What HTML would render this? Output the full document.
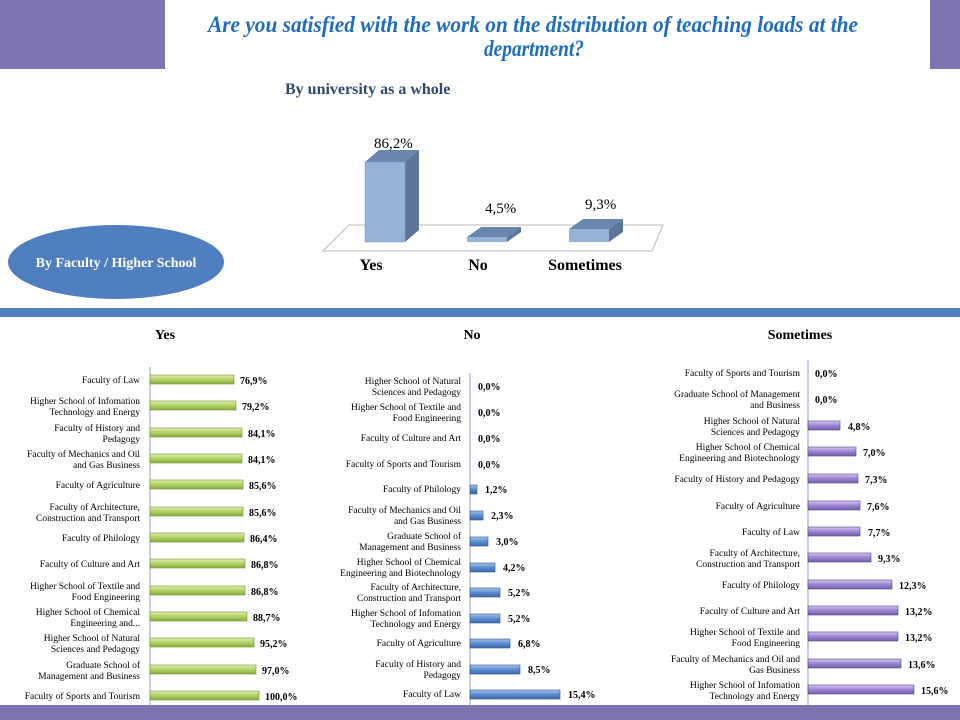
<!DOCTYPE html>
<html><head><meta charset="utf-8"><style>
body{margin:0;background:#fff;width:960px;height:720px;overflow:hidden}
svg{display:block;font-family:"Liberation Serif",serif}
.l{font-size:9.5px;text-anchor:end;fill:#000}
.v{font-size:10px;font-weight:bold;fill:#000}
</style></head><body>
<svg width="960" height="720" viewBox="0 0 960 720">
<defs>
<linearGradient id="g" x1="0" y1="0" x2="0" y2="1"><stop offset="0" stop-color="#e0f0b0"/><stop offset="0.5" stop-color="#b2d166"/><stop offset="1" stop-color="#86ad3e"/></linearGradient>
<linearGradient id="b" x1="0" y1="0" x2="0" y2="1"><stop offset="0" stop-color="#a9c4ea"/><stop offset="0.5" stop-color="#5b8bd0"/><stop offset="1" stop-color="#3c6aad"/></linearGradient>
<linearGradient id="p" x1="0" y1="0" x2="0" y2="1"><stop offset="0" stop-color="#d6c8f0"/><stop offset="0.5" stop-color="#9a84cf"/><stop offset="1" stop-color="#7660ad"/></linearGradient>
</defs>
<rect x="0" y="0" width="165" height="69" fill="#7e72b0"/>
<rect x="930" y="0" width="30" height="69" fill="#7e72b0"/>
<text x="208" y="32" font-size="23" font-style="italic" font-weight="bold" fill="#1f6cc0" textLength="650" lengthAdjust="spacingAndGlyphs">Are you satisfied with the work on the distribution of teaching loads at the</text>
<text x="484" y="56" font-size="23" font-style="italic" font-weight="bold" fill="#1f6cc0" textLength="100" lengthAdjust="spacingAndGlyphs">department?</text>
<text x="285" y="94" font-size="16" font-weight="bold" fill="#2c4a72">By university as a whole</text>
<polygon points="323,251 349,225 663,225 652,251" fill="#fff" stroke="#bbb"/>
<polygon points="365,162 379,150 419,150 405,162" fill="#6a86ad"/>
<polygon points="405,162 419,150 419,230 405,242" fill="#5d7597"/>
<rect x="365" y="162" width="40" height="80" fill="#95b3d7" stroke="#7f9ccb" stroke-width="0.5"/>
<polygon points="467,237 481,227 521,227 507,237" fill="#6a86ad"/>
<polygon points="507,237 521,227 521,232 507,242" fill="#5d7597"/>
<rect x="467" y="237" width="40" height="5" fill="#95b3d7"/>
<polygon points="569,229 583,219 623,219 609,229" fill="#6a86ad"/>
<polygon points="609,229 623,219 623,232 609,242" fill="#5d7597"/>
<rect x="569" y="229" width="40" height="13" fill="#95b3d7"/>
<g font-size="15" fill="#000"><text x="374" y="148">86,2%</text><text x="485" y="213">4,5%</text><text x="585" y="209">9,3%</text></g>
<g font-size="16" font-weight="bold" fill="#000" text-anchor="middle"><text x="371" y="270">Yes</text><text x="478" y="270">No</text><text x="585" y="270">Sometimes</text></g>
<ellipse cx="116" cy="262" rx="108" ry="37" fill="#4f7fbf"/>
<text x="116" y="267" font-size="14" font-weight="bold" fill="#fff" text-anchor="middle">By Faculty / Higher School</text>
<rect x="0" y="308" width="960" height="9" fill="#4f81bd"/>
<rect x="0" y="705" width="960" height="15" fill="#7e72b0"/>
<g font-size="14" font-weight="bold" text-anchor="middle"><text x="165" y="339">Yes</text><text x="472" y="339">No</text><text x="800" y="339">Sometimes</text></g>
<line x1="150" y1="367" x2="150" y2="705" stroke="#8ea6c8"/>
<line x1="470" y1="373" x2="470" y2="705" stroke="#8ea6c8"/>
<line x1="808" y1="360" x2="808" y2="705" stroke="#8ea6c8"/>
<g class="l">
<text x="140" y="383">Faculty of Law</text>
<text x="140" y="404">Higher School of Infomation</text><text x="140" y="415">Technology and Energy</text>
<text x="140" y="431">Faculty of History and</text><text x="140" y="442">Pedagogy</text>
<text x="140" y="457">Faculty of Mechanics and Oil</text><text x="140" y="468">and Gas Business</text>
<text x="140" y="488">Faculty of Agriculture</text>
<text x="140" y="510">Faculty of Architecture,</text><text x="140" y="521">Construction and Transport</text>
<text x="140" y="541">Faculty of Philology</text>
<text x="140" y="567">Faculty of Culture and Art</text>
<text x="140" y="589">Higher School of Textile and</text><text x="140" y="600">Food Engineering</text>
<text x="140" y="615">Higher School of Chemical</text><text x="140" y="626">Engineering and...</text>
<text x="140" y="641">Higher School of Natural</text><text x="140" y="652">Sciences and Pedagogy</text>
<text x="140" y="668">Graduate School of</text><text x="140" y="679">Management and Business</text>
<text x="140" y="699">Faculty of Sports and Tourism</text>
</g>
<g fill="url(#g)" stroke="#6f8f35" stroke-width="0.6">
<rect x="150" y="375" width="84" height="9"/><rect x="150" y="401" width="86" height="9"/><rect x="150" y="428" width="92" height="9"/><rect x="150" y="454" width="92" height="9"/><rect x="150" y="480" width="93" height="9"/><rect x="150" y="507" width="93" height="9"/><rect x="150" y="533" width="94" height="9"/><rect x="150" y="559" width="95" height="9"/><rect x="150" y="586" width="95" height="9"/><rect x="150" y="612" width="97" height="9"/><rect x="150" y="638" width="104" height="9"/><rect x="150" y="665" width="106" height="9"/><rect x="150" y="691" width="109" height="9"/>
</g>
<g class="v">
<text x="240" y="384">76,9%</text><text x="242" y="410">79,2%</text><text x="248" y="437">84,1%</text><text x="248" y="463">84,1%</text><text x="249" y="489">85,6%</text><text x="249" y="516">85,6%</text><text x="250" y="542">86,4%</text><text x="251" y="568">86,8%</text><text x="251" y="595">86,8%</text><text x="253" y="621">88,7%</text><text x="260" y="647">95,2%</text><text x="262" y="674">97,0%</text><text x="265" y="700">100,0%</text>
</g>
<g class="l">
<text x="461" y="384">Higher School of Natural</text><text x="461" y="395">Sciences and Pedagogy</text>
<text x="461" y="410">Higher School of Textile and</text><text x="461" y="421">Food Engineering</text>
<text x="461" y="441">Faculty of Culture and Art</text>
<text x="461" y="467">Faculty of Sports and Tourism</text>
<text x="461" y="492">Faculty of Philology</text>
<text x="461" y="513">Faculty of Mechanics and Oil</text><text x="461" y="524">and Gas Business</text>
<text x="461" y="539">Graduate School of</text><text x="461" y="550">Management and Business</text>
<text x="461" y="565">Higher School of Chemical</text><text x="461" y="576">Engineering and Biotechnology</text>
<text x="461" y="590">Faculty of Architecture,</text><text x="461" y="601">Construction and Transport</text>
<text x="461" y="616">Higher School of Infomation</text><text x="461" y="627">Technology and Energy</text>
<text x="461" y="646">Faculty of Agriculture</text>
<text x="461" y="667">Faculty of History and</text><text x="461" y="678">Pedagogy</text>
<text x="461" y="697">Faculty of Law</text>
</g>
<g fill="url(#b)" stroke="#2f5590" stroke-width="0.6">
<rect x="470" y="485" width="7" height="9"/><rect x="470" y="511" width="13" height="9"/><rect x="470" y="537" width="18" height="9"/><rect x="470" y="563" width="25" height="9"/><rect x="470" y="588" width="30" height="9"/><rect x="470" y="614" width="30" height="9"/><rect x="470" y="639" width="40" height="9"/><rect x="470" y="665" width="50" height="9"/><rect x="470" y="690" width="90" height="9"/>
</g>
<g class="v">
<text x="478" y="390">0,0%</text><text x="478" y="416">0,0%</text><text x="478" y="442">0,0%</text><text x="478" y="468">0,0%</text><text x="485" y="493">1,2%</text><text x="491" y="519">2,3%</text><text x="496" y="545">3,0%</text><text x="503" y="571">4,2%</text><text x="508" y="596">5,2%</text><text x="508" y="622">5,2%</text><text x="518" y="647">6,8%</text><text x="528" y="673">8,5%</text><text x="568" y="698">15,4%</text>
</g>
<g class="l">
<text x="800" y="376">Faculty of Sports and Tourism</text>
<text x="800" y="397">Graduate School of Management</text><text x="800" y="408">and Business</text>
<text x="800" y="424">Higher School of Natural</text><text x="800" y="435">Sciences and Pedagogy</text>
<text x="800" y="450">Higher School of Chemical</text><text x="800" y="461">Engineering and Biotechnology</text>
<text x="800" y="482">Faculty of History and Pedagogy</text>
<text x="800" y="509">Faculty of Agriculture</text>
<text x="800" y="535">Faculty of Law</text>
<text x="800" y="556">Faculty of Architecture,</text><text x="800" y="567">Construction and Transport</text>
<text x="800" y="588">Faculty of Philology</text>
<text x="800" y="614">Faculty of Culture and Art</text>
<text x="800" y="635">Higher School of Textile and</text><text x="800" y="646">Food Engineering</text>
<text x="800" y="662">Faculty of Mechanics and Oil and</text><text x="800" y="673">Gas Business</text>
<text x="800" y="688">Higher School of Infomation</text><text x="800" y="699">Technology and Energy</text>
</g>
<g fill="url(#p)" stroke="#54408a" stroke-width="0.6">
<rect x="808" y="421" width="32" height="9"/><rect x="808" y="447" width="48" height="9"/><rect x="808" y="474" width="50" height="9"/><rect x="808" y="501" width="52" height="9"/><rect x="808" y="527" width="52" height="9"/><rect x="808" y="553" width="63" height="9"/><rect x="808" y="580" width="84" height="9"/><rect x="808" y="606" width="90" height="9"/><rect x="808" y="632" width="90" height="9"/><rect x="808" y="659" width="93" height="9"/><rect x="808" y="685" width="106" height="9"/>
</g>
<g class="v">
<text x="815" y="377">0,0%</text><text x="815" y="403">0,0%</text><text x="848" y="430">4,8%</text><text x="863" y="456">7,0%</text><text x="865" y="483">7,3%</text><text x="867" y="510">7,6%</text><text x="868" y="536">7,7%</text><text x="878" y="562">9,3%</text><text x="899" y="589">12,3%</text><text x="905" y="615">13,2%</text><text x="905" y="641">13,2%</text><text x="908" y="668">13,6%</text><text x="921" y="694">15,6%</text>
</g>
</svg>
</body></html>
